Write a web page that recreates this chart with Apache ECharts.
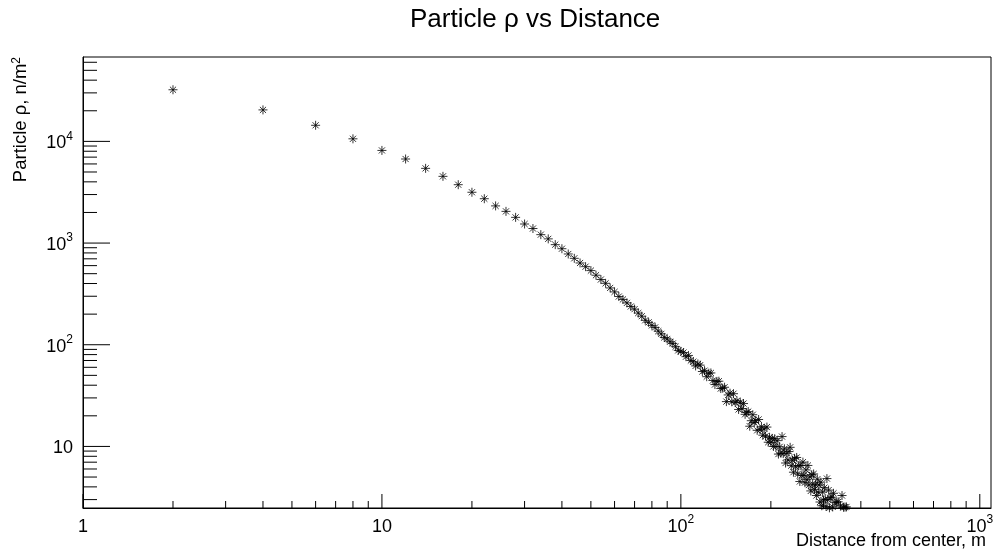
<!DOCTYPE html>
<html>
<head>
<meta charset="utf-8">
<script src="https://cdn.jsdelivr.net/npm/echarts@6/dist/echarts.min.js"></script>
<style>
html,body{margin:0;padding:0;background:#fff;}
#chart{width:996px;height:554px;}
</style>
</head>
<body>
<div id="chart"></div>
<script>
// Distance from center, m
const distances = [2,4,6,8,10,12,14,16,18,20,22,24,26,28,30,32,34,36,38,40,42,44,46,48,50,
52,54,56,58,60,62,64,66,68,70,72,74,76,78,80,82,84,86,88,90,92,94,96,98,100,
102,104,106,108,110,112,114,116,118,120,122,124,126,128,130,132,134,136,138,140,
142,144,146,148,150,152,154,156,158,160,162,164,166,168,170,172,174,176,178,180,
182,184,186,188,190,192,194,196,198,200,202,204,206,208,210,212,214,216,218,220,
222,224,226,228,230,232,234,236,238,240,242,244,246,248,250,252,254,256,258,260,
262,264,266,268,270,272,274,276,278,280,282,284,286,288,290,292,294,296,298,300,
302,304,306,308,310,312,314,316,318,320,322,324,326,328,330,332,334,336,338,340,
342,344,346,348,350,352,354,356,358,360];
// Particle density, n/m^2
const densities = [32200,20400,14400,10600,8150,6710,5430,4530,3750,3160,2730,2320,2050,1790,1540,1390,1210,1100,965,880,781,708,637,586,536,
483,438,402,362,331,298,279,258,238,224,205,191,174,166,155,148,136,128,118,114,107,103,95.7,88,86.1,
83.8,76.3,78.5,70.0,68.2,61.9,64.7,63.0,54.6,55.6,48.5,52.5,52.8,44.5,40.6,43.6,43.8,37.1,37.4,38.2,
27.6,32.1,33.4,27.5,33.0,27.0,28.1,23.1,27.2,23.6,26.4,20.7,21.6,22.0,15.8,17.9,20.5,17.2,17.9,14.4,
18.4,14.6,15.6,12.9,14.9,12.6,15.5,11.0,12.3,11.0,12.0,10.0,11.9,9.98,11.4,8.41,9.90,8.58,12.5,8.50,
9.47,6.87,8.57,7.38,8.90,9.8,6.47,7.30,5.58,7.63,6.32,7.79,5.37,6.48,4.52,6.48,5.18,7.01,5.21,4.40,
5.87,4.71,6.50,4.17,5.03,3.65,5.27,4.26,5.36,3.78,4.20,3.29,4.76,3.55,4.17,2.84,4.45,2.61,3.56,2.97,
3.93,3.02,2.57,4.83,3.00,3.72,2.49,3.13,2.20,3.17,2.54,3.46,2.18,2.80,2.23,2.84,2.28,2.85,2.00,2.39,
2.60,2.08,3.29,2.45,2.52,1.94,2.53,1.76,2.54,1.80];

const xMajorTicks = [1,10,100,1000];
const xMinorTicks = [2,3,4,5,6,7,8,9,20,30,40,50,60,70,80,90,200,300,400,500,600,700,800,900];
const yMajorTicks = [10,100,1000,10000];
const yMinorTicks = [3,4,5,6,7,8,9,20,30,40,50,60,70,80,90,200,300,400,500,600,700,800,900,
2000,3000,4000,5000,6000,7000,8000,9000,20000,30000,40000,50000,60000];

const X_MIN = 1, X_MAX = 1090, Y_MIN = 2.48, Y_MAX = 67600;
const FONT = '"Liberation Sans", Arial, Helvetica, sans-serif';

function powLabel(v){
  const e = Math.log10(v);
  const r = Math.round(e);
  if (Math.abs(e - r) > 1e-6) return '';
  if (r === 0) return '{b|1}';
  if (r === 1) return '{b|10}';
  return '{b|10}{s|' + r + '}';
}
const labelRich = {
  b: {fontSize: 18, fontFamily: FONT, color: '#000', verticalAlign: 'bottom', lineHeight: 22},
  s: {fontSize: 12, fontFamily: FONT, color: '#000', verticalAlign: 'top', lineHeight: 22, padding: [0,0,6,0]}
};

const chart = echarts.init(document.getElementById('chart'), null, {renderer: 'canvas'});
const points = distances.map((d, i) => [d, densities[i]]);
const asterisk = 'path://M0,5L10,5M5,0L5,10M1.6,1.6L8.4,8.4M8.4,1.6L1.6,8.4';

chart.setOption({
  animation: false,
  backgroundColor: '#fff',
  title: {
    text: 'Particle ρ vs Distance',
    left: 405, top: 2,
    textStyle: {fontSize: 26, fontWeight: 'normal', fontFamily: FONT, color: '#000'}
  },
  grid: {left: 83, top: 57, right: 5, bottom: 46, containLabel: false, outerBoundsMode: 'none',
    show: true, borderColor: '#000', borderWidth: 1, backgroundColor: 'transparent'},
  xAxis: {
    type: 'log', logBase: 10, min: X_MIN, max: X_MAX, splitNumber: 3,
    name: 'Distance from center, m', nameLocation: 'end', nameGap: -195, nameMoveOverlap: false,
    nameTextStyle: {fontSize: 18, fontFamily: FONT, color: '#000', align: 'left', verticalAlign: 'top', padding: [24,0,0,0]},
    axisLine: {lineStyle: {color: '#000', width: 1}},
    axisTick: {show: false}, splitLine: {show: false}, minorTick: {show: false},
    axisLabel: {showMinLabel: true, showMaxLabel: true, margin: 6, formatter: powLabel, rich: labelRich, color: '#000'}
  },
  yAxis: {
    type: 'log', logBase: 10, min: Y_MIN, max: Y_MAX, splitNumber: 5,
    name: 'Particle ρ, n/m{s|2}', nameLocation: 'end', nameGap: 0, nameRotate: 90, nameMoveOverlap: false,
    nameTextStyle: {fontSize: 18.5, fontFamily: FONT, color: '#000', align: 'right', verticalAlign: 'bottom', padding: [0,0,53,0],
      rich: {s: {fontSize: 12, fontFamily: FONT, color: '#000', verticalAlign: 'top', padding: [0,0,6,0]}}},
    axisLine: {lineStyle: {color: '#000', width: 1}},
    axisTick: {show: false}, splitLine: {show: false}, minorTick: {show: false},
    axisLabel: {margin: 10, formatter: powLabel, rich: labelRich, color: '#000'}
  },
  series: [
    {
      type: 'scatter', data: points, symbol: asterisk, symbolSize: 9, clip: true,
      itemStyle: {color: 'rgba(0,0,0,0)', borderColor: '#000', borderWidth: 1}
    },
    {
      type: 'custom', silent: true, clip: false,
      data: xMajorTicks.map(v => [v, Y_MIN, 1]).concat(xMinorTicks.map(v => [v, Y_MIN, 0])),
      encode: {x: 0, y: 1},
      renderItem: function(params, api){
        const p = api.coord([api.value(0), api.value(1)]);
        const len = api.value(2) ? 14 : 7;
        return {type: 'line', shape: {x1: p[0], y1: p[1], x2: p[0], y2: p[1] - len}, style: {stroke: '#000', lineWidth: 1}};
      }
    },
    {
      type: 'custom', silent: true, clip: false,
      data: yMajorTicks.map(v => [X_MIN, v, 1]).concat(yMinorTicks.map(v => [X_MIN, v, 0])),
      encode: {x: 0, y: 1},
      renderItem: function(params, api){
        const p = api.coord([api.value(0), api.value(1)]);
        const len = api.value(2) ? 27 : 14;
        return {type: 'line', shape: {x1: p[0], y1: p[1], x2: p[0] + len, y2: p[1]}, style: {stroke: '#000', lineWidth: 1}};
      }
    }
  ]
});
</script>
</body>
</html>
